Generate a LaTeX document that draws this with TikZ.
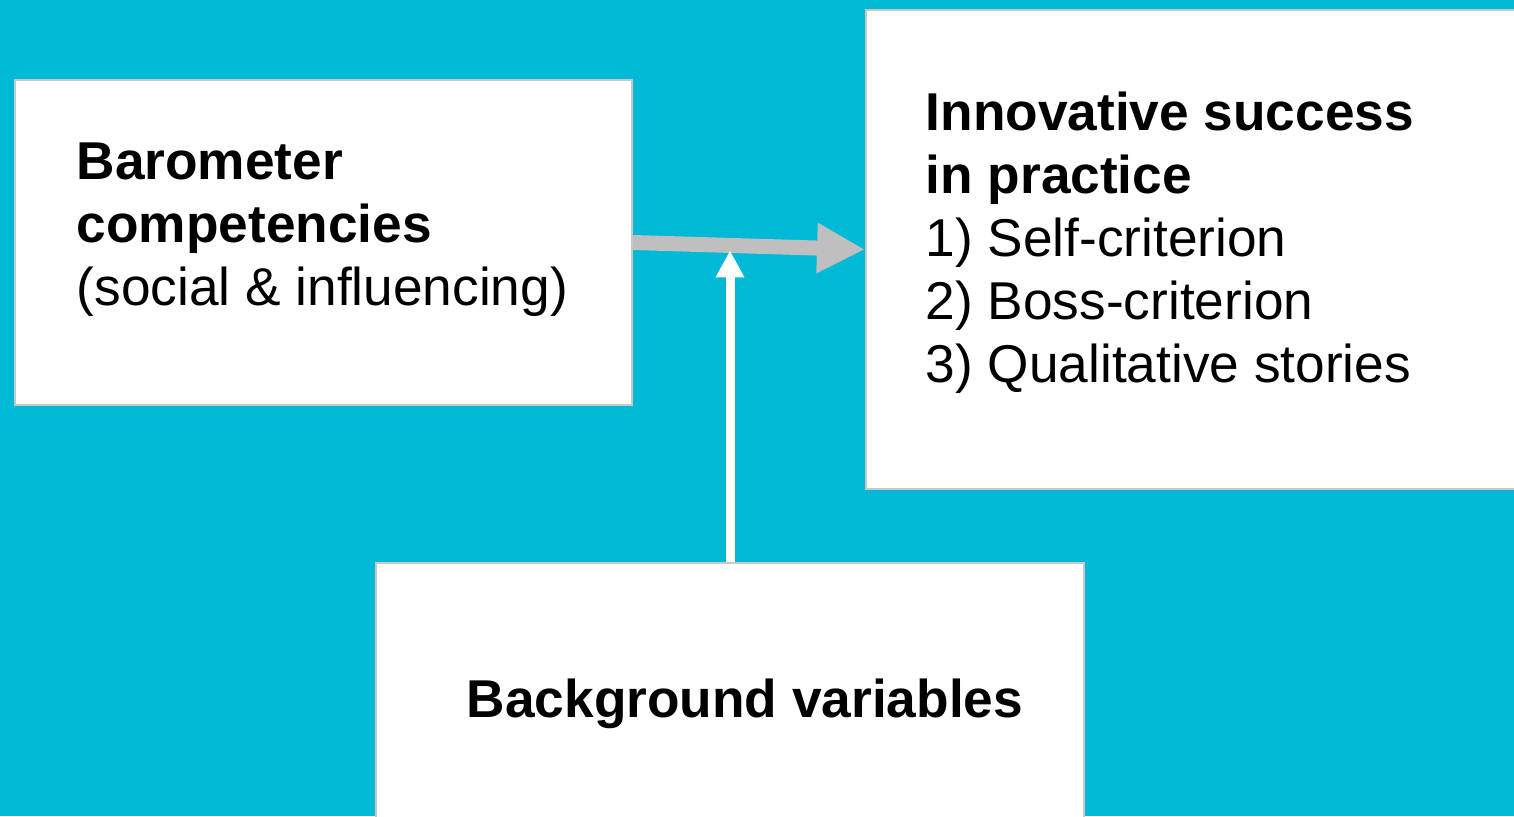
\documentclass[tikz,border=0pt]{standalone}
\usepackage{fontspec}
\setmainfont{Liberation Sans}
\usetikzlibrary{arrows.meta}
\definecolor{bgcyan}{HTML}{00B9D6}
\definecolor{boxline}{HTML}{C8C8C8}
\definecolor{arrowgray}{HTML}{BFBFBF}

\begin{document}
\begin{tikzpicture}[boxnode/.style={draw=boxline, line width=0.02cm, fill=white, inner sep=0pt},
    txt/.style={inner sep=0pt, align=left, anchor=base west, font=\fontsize{15.15pt}{17.9pt}\selectfont},
    grayarrow/.style={draw=arrowgray, line width=0.15cm, -{Triangle[length=0.48cm, width=0.47cm]}},
    whitearrow/.style={draw=white, line width=0.09cm, -{Triangle[length=0.27cm, width=0.27cm]}}]

    \useasboundingbox (0,0) rectangle (15.14,8.16);
    \fill[bgcyan] (0,0) rectangle (15.14,8.16);

    \node[boxnode, minimum width=6.17cm, minimum height=3.25cm] (baro) at (3.235,5.735) {};
    \node[boxnode, minimum width=6.54cm, minimum height=4.79cm] (success) at (11.93,5.665) {};
    \node[boxnode, minimum width=7.08cm, minimum height=2.68cm] (background) at (7.30,1.19) {};

    % anchor base = baseline of the last line
    \node[txt] (barotext) at (0.76,5.11) {\textbf{Barometer}\\ \textbf{competencies}\\ (social \& influencing)};
    \node[txt] (successtext) at (9.25,4.34) {\textbf{Innovative success}\\ \textbf{in practice}\\ 1) Self-criterion\\ 2) Boss-criterion\\ 3) Qualitative stories};
    \node[txt, anchor=base] (backgroundtext) at (7.45,0.99) {\textbf{Background variables}};

    \draw[grayarrow] (baro.east) -- (success.west) coordinate[pos=0.42] (mid);
    \draw[whitearrow] (background.north) -- ([yshift=-0.05cm]background.north |- mid);

\end{tikzpicture}
\end{document}
